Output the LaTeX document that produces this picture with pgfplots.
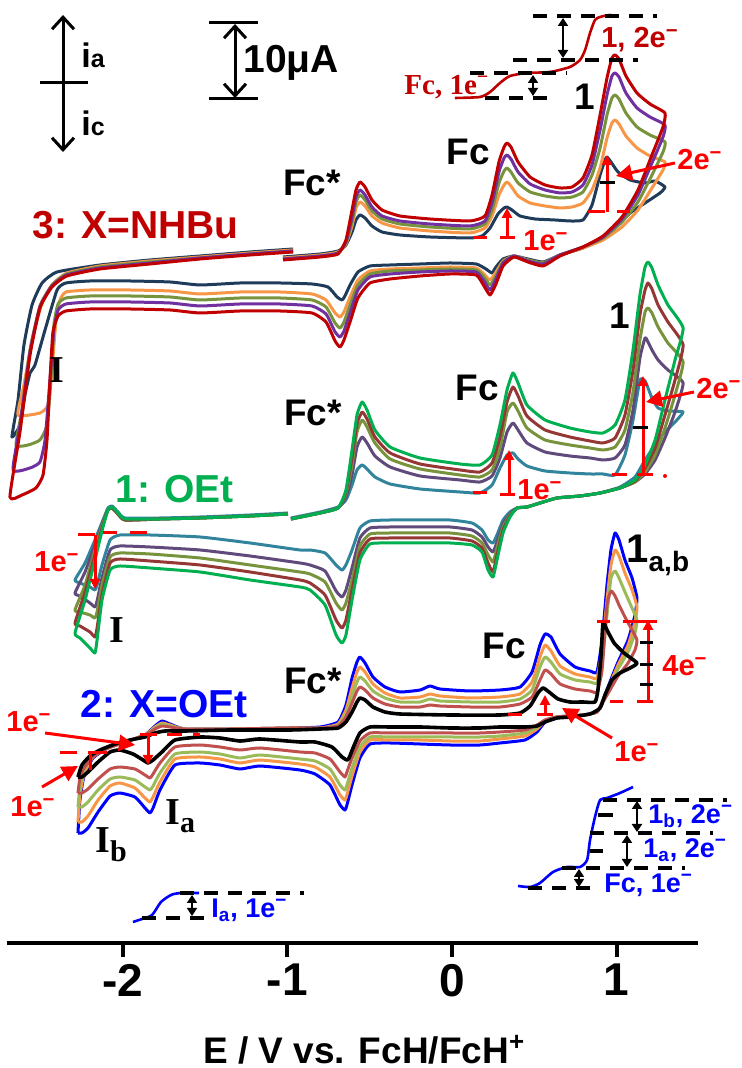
\documentclass[border=0pt]{standalone}
\usepackage{fontspec}
\setmainfont{Liberation Sans}
\newfontfamily\tnr{Liberation Serif}
\usepackage{pgfplots}
\pgfplotsset{compat=1.18}
\usetikzlibrary{arrows.meta}
\definecolor{gnavy}{HTML}{1F3B5A}
\definecolor{gorange}{HTML}{F79646}
\definecolor{golive}{HTML}{77933C}
\definecolor{gpurp}{HTML}{7030A0}
\definecolor{gred}{HTML}{C00000}
\definecolor{ggreen}{HTML}{00B050}
\definecolor{gbrown}{HTML}{953735}
\definecolor{gpurpB}{HTML}{604A7B}
\definecolor{gteal}{HTML}{31849B}
\definecolor{gblue}{HTML}{0000FF}
\definecolor{glgreen}{HTML}{9BBB59}
\definecolor{grosy}{HTML}{C0504D}
\definecolor{ared}{HTML}{FF0000}
\newcommand\bigf{\fontsize{18.5}{20}\selectfont\bfseries}
\newcommand\grpf{\fontsize{19.5}{21}\selectfont\bfseries}
\newcommand\smf{\fontsize{14.5}{16}\selectfont\bfseries}
\newcommand\insf{\fontsize{13.5}{14}\selectfont\bfseries}
\newcommand\emin{\textsuperscript{\char"2212}}
\tikzset{cv/.style={line width=1.5pt, smooth, tension=0.3, line join=round},
  tri/.style={-{Triangle[length=5pt,width=5pt]}},
  trib/.style={-{Triangle[length=8pt,width=8pt]}},
  barb/.style={{Straight Barb[length=6pt,width=11pt]}-{Straight Barb[length=6pt,width=11pt]}},
  dbl/.style={{Triangle[length=4pt,width=5pt]}-{Triangle[length=4pt,width=5pt]}}}
\begin{document}
\begin{tikzpicture}
\begin{axis}[
  name=ax,
  scale only axis, width=345.5pt, height=471.5pt,
  xmin=-2.7019, xmax=1.4936, ymin=-943, ymax=0,
  enlargelimits=false, clip=false,
  axis x line*=bottom, axis y line=none,
  x axis line style={line width=2pt},
  xtick={-2,-1,0,1}, xticklabels={-2,-1,0,1},
  xtick align=outside, major tick length=7pt,
  tick style={line width=2pt, black},
  xticklabel style={font=\fontsize{23}{23}\selectfont\bfseries},
  xlabel={E / V vs. FcH/FcH\textsuperscript{+}},
  xlabel style={font=\fontsize{18.5}{20}\selectfont\bfseries, at={(axis description cs:0.517,0)}, anchor=base, yshift=-60pt},
  no markers,
]
% ===== Group 3: X = NHBu =====
\addplot[gnavy, cv] coordinates {(-1.026,-257)(-0.801,-254)(-0.692,-251)(-0.644,-245)(-0.607,-232)(-0.583,-220)(-0.559,-215)(-0.528,-218)(-0.486,-226)(-0.425,-232)(-0.316,-235)(-0.134,-237)(0.109,-238)(0.182,-236)(0.231,-228)(0.279,-214)(0.316,-208)(0.334,-207)(0.364,-210)(0.413,-216)(0.504,-219)(0.625,-220)(0.716,-221)(0.795,-220)(0.850,-205)(0.899,-175)(0.929,-160)(0.941,-157)(0.965,-162)(1.008,-172)(1.081,-180)(1.172,-183)(1.233,-181)(1.293,-187)(1.263,-193)(1.172,-203)(1.081,-213)(0.990,-228)(0.899,-240)(0.795,-248)(0.656,-255)(0.553,-262)(0.461,-259)(0.376,-256)(0.310,-259)(0.267,-267)(0.243,-273)(0.206,-269)(0.146,-264)(-0.012,-263)(-0.194,-264)(-0.376,-265)(-0.498,-266)(-0.571,-272)(-0.619,-285)(-0.650,-296)(-0.668,-300)(-0.698,-297)(-0.753,-287)(-0.850,-284)(-1.044,-283)(-1.287,-283)(-1.530,-285)(-1.712,-282)(-1.955,-281)(-2.198,-281)(-2.344,-283)(-2.398,-290)(-2.471,-330)(-2.532,-365)(-2.562,-373)(-2.593,-395)(-2.623,-425)(-2.672,-437)(-2.635,-400)(-2.599,-345)(-2.550,-305)(-2.489,-283)(-2.398,-272)(-2.137,-265)(-1.834,-260)(-1.530,-256)(-1.226,-252)(-0.965,-249)};
\addplot[gorange, cv] coordinates {(-1.026,-258)(-0.801,-255)(-0.692,-252)(-0.644,-244)(-0.607,-226)(-0.583,-208)(-0.559,-202)(-0.528,-206)(-0.486,-216)(-0.425,-223)(-0.316,-228)(-0.134,-231)(0.109,-233)(0.200,-228)(0.243,-216)(0.285,-195)(0.316,-185)(0.334,-182)(0.358,-186)(0.401,-196)(0.474,-203)(0.565,-206)(0.656,-208)(0.729,-207)(0.795,-203)(0.850,-190)(0.899,-168)(0.941,-138)(0.971,-123)(0.990,-120)(1.014,-124)(1.056,-136)(1.123,-148)(1.202,-156)(1.293,-162)(1.281,-170)(1.214,-188)(1.129,-210)(1.032,-227)(0.917,-240)(0.795,-248)(0.656,-255)(0.553,-263)(0.461,-260)(0.376,-256)(0.310,-261)(0.267,-272)(0.231,-280)(0.194,-274)(0.146,-268)(-0.012,-267)(-0.194,-268)(-0.376,-269)(-0.498,-271)(-0.571,-280)(-0.619,-297)(-0.656,-312)(-0.680,-317)(-0.710,-313)(-0.765,-300)(-0.850,-294)(-1.044,-292)(-1.287,-292)(-1.530,-294)(-1.712,-291)(-1.955,-290)(-2.198,-290)(-2.344,-292)(-2.380,-300)(-2.404,-320)(-2.429,-370)(-2.453,-405)(-2.502,-413)(-2.635,-415)(-2.599,-385)(-2.550,-340)(-2.489,-303)(-2.423,-284)(-2.338,-273)(-2.137,-266)(-1.834,-261)(-1.530,-257)(-1.226,-253)(-0.965,-250)};
\addplot[golive, cv] coordinates {(-1.026,-259)(-0.801,-256)(-0.692,-253)(-0.644,-243)(-0.607,-222)(-0.583,-202)(-0.559,-195)(-0.528,-200)(-0.486,-211)(-0.425,-219)(-0.316,-224)(-0.134,-227)(0.109,-229)(0.200,-224)(0.243,-210)(0.285,-183)(0.316,-171)(0.334,-168)(0.358,-172)(0.401,-183)(0.474,-192)(0.565,-196)(0.656,-198)(0.729,-197)(0.795,-192)(0.850,-175)(0.899,-148)(0.941,-115)(0.971,-98)(0.990,-95)(1.014,-99)(1.056,-113)(1.123,-127)(1.202,-135)(1.293,-142)(1.281,-152)(1.214,-175)(1.129,-202)(1.032,-222)(0.917,-238)(0.795,-247)(0.656,-255)(0.553,-263)(0.461,-260)(0.376,-256)(0.310,-262)(0.267,-276)(0.231,-285)(0.194,-277)(0.146,-270)(-0.012,-269)(-0.194,-270)(-0.376,-271)(-0.498,-274)(-0.571,-285)(-0.619,-305)(-0.656,-322)(-0.680,-328)(-0.710,-323)(-0.765,-307)(-0.850,-300)(-1.044,-298)(-1.287,-298)(-1.530,-300)(-1.712,-297)(-1.955,-296)(-2.198,-296)(-2.344,-298)(-2.392,-304)(-2.417,-325)(-2.435,-380)(-2.459,-425)(-2.502,-440)(-2.574,-445)(-2.647,-445)(-2.611,-410)(-2.562,-350)(-2.502,-306)(-2.429,-285)(-2.338,-274)(-2.137,-267)(-1.834,-262)(-1.530,-258)(-1.226,-254)(-0.965,-251)};
\addplot[gpurp, cv] coordinates {(-1.026,-259)(-0.801,-256)(-0.692,-253)(-0.644,-242)(-0.607,-217)(-0.583,-197)(-0.559,-190)(-0.528,-195)(-0.486,-207)(-0.425,-216)(-0.316,-221)(-0.134,-224)(0.109,-226)(0.200,-221)(0.243,-203)(0.285,-172)(0.316,-158)(0.334,-155)(0.358,-159)(0.401,-172)(0.474,-184)(0.565,-190)(0.656,-193)(0.729,-192)(0.795,-185)(0.850,-165)(0.899,-130)(0.941,-95)(0.971,-76)(0.990,-73)(1.014,-77)(1.056,-93)(1.123,-108)(1.202,-117)(1.293,-125)(1.281,-137)(1.214,-163)(1.129,-195)(1.032,-219)(0.917,-237)(0.795,-247)(0.656,-255)(0.553,-264)(0.461,-261)(0.376,-256)(0.310,-263)(0.267,-279)(0.231,-290)(0.194,-281)(0.146,-272)(-0.012,-271)(-0.194,-272)(-0.376,-274)(-0.498,-277)(-0.571,-290)(-0.619,-313)(-0.656,-331)(-0.680,-337)(-0.710,-332)(-0.765,-314)(-0.850,-306)(-1.044,-304)(-1.287,-304)(-1.530,-306)(-1.712,-303)(-1.955,-302)(-2.198,-302)(-2.344,-304)(-2.392,-310)(-2.417,-330)(-2.441,-380)(-2.471,-440)(-2.502,-462)(-2.562,-468)(-2.665,-470)(-2.623,-425)(-2.562,-352)(-2.502,-307)(-2.429,-286)(-2.338,-275)(-2.137,-268)(-1.834,-263)(-1.530,-258)(-1.226,-254)(-0.965,-251)};
\addplot[gred, cv] coordinates {(-1.026,-260)(-0.801,-257)(-0.692,-254)(-0.644,-240)(-0.607,-210)(-0.583,-190)(-0.559,-182)(-0.528,-187)(-0.486,-200)(-0.425,-210)(-0.316,-216)(-0.134,-219)(0.109,-221)(0.200,-216)(0.243,-195)(0.285,-162)(0.316,-147)(0.334,-143)(0.358,-147)(0.401,-162)(0.474,-177)(0.565,-185)(0.656,-188)(0.729,-187)(0.795,-178)(0.850,-155)(0.899,-115)(0.941,-78)(0.971,-58)(0.990,-55)(1.014,-59)(1.056,-76)(1.123,-93)(1.202,-104)(1.293,-113)(1.281,-127)(1.214,-155)(1.129,-190)(1.032,-217)(0.917,-236)(0.795,-247)(0.656,-256)(0.553,-266)(0.461,-262)(0.376,-257)(0.310,-266)(0.267,-284)(0.231,-295)(0.194,-286)(0.146,-275)(-0.012,-274)(-0.194,-276)(-0.376,-279)(-0.498,-283)(-0.571,-298)(-0.619,-322)(-0.656,-340)(-0.680,-347)(-0.710,-341)(-0.765,-322)(-0.850,-313)(-1.044,-311)(-1.287,-311)(-1.530,-313)(-1.712,-310)(-1.955,-309)(-2.198,-309)(-2.344,-311)(-2.392,-316)(-2.423,-332)(-2.441,-380)(-2.459,-440)(-2.483,-475)(-2.526,-488)(-2.611,-495)(-2.684,-497)(-2.623,-432)(-2.562,-355)(-2.502,-308)(-2.429,-287)(-2.338,-276)(-2.137,-269)(-1.834,-264)(-1.530,-259)(-1.226,-255)(-0.965,-252)};
% ===== Group 1: OEt =====
\addplot[gteal, cv] coordinates {(-0.978,-518)(-0.801,-512)(-0.692,-507)(-0.644,-500)(-0.607,-485)(-0.577,-470)(-0.546,-465)(-0.516,-469)(-0.468,-477)(-0.376,-484)(-0.194,-489)(0.049,-492)(0.170,-493)(0.243,-485)(0.291,-468)(0.334,-455)(0.370,-453)(0.401,-459)(0.455,-466)(0.565,-471)(0.716,-473)(0.838,-474)(0.917,-474)(0.990,-475)(1.050,-455)(1.099,-420)(1.141,-380)(1.172,-381)(1.190,-388)(1.214,-398)(1.251,-408)(1.311,-411)(1.403,-412)(1.354,-422)(1.293,-432)(1.233,-445)(1.172,-460)(1.111,-477)(1.020,-487)(0.899,-493)(0.777,-496)(0.638,-498)(0.534,-503)(0.455,-507)(0.395,-508)(0.352,-512)(0.310,-520)(0.273,-535)(0.249,-543)(0.219,-540)(0.182,-530)(0.121,-523)(-0.012,-520)(-0.194,-520)(-0.376,-520)(-0.498,-521)(-0.559,-528)(-0.607,-550)(-0.644,-565)(-0.668,-570)(-0.704,-565)(-0.771,-553)(-0.862,-550)(-0.923,-550)(-1.226,-543)(-1.530,-537)(-1.834,-535)(-2.016,-535)(-2.076,-540)(-2.125,-565)(-2.155,-585)(-2.168,-590)(-2.198,-587)(-2.259,-583)(-2.289,-580)(-2.228,-563)(-2.168,-540)(-2.119,-520)(-2.089,-508)(-2.064,-506)(-2.028,-512)(-1.985,-518)(-1.773,-518)(-1.530,-517)(-1.226,-515)(-0.996,-513)};
\addplot[gpurpB, cv] coordinates {(-0.978,-519)(-0.801,-513)(-0.692,-508)(-0.644,-497)(-0.607,-475)(-0.577,-447)(-0.546,-437)(-0.516,-443)(-0.468,-456)(-0.376,-467)(-0.194,-476)(0.049,-480)(0.170,-482)(0.243,-476)(0.291,-458)(0.334,-432)(0.370,-423)(0.401,-430)(0.455,-443)(0.565,-452)(0.716,-456)(0.838,-458)(0.917,-460)(0.990,-458)(1.050,-445)(1.099,-410)(1.141,-358)(1.172,-338)(1.190,-342)(1.214,-350)(1.251,-360)(1.311,-370)(1.403,-383)(1.354,-412)(1.293,-438)(1.233,-460)(1.172,-474)(1.111,-482)(1.020,-488)(0.899,-493)(0.777,-496)(0.638,-498)(0.534,-503)(0.455,-507)(0.395,-508)(0.352,-514)(0.310,-524)(0.273,-542)(0.249,-552)(0.219,-547)(0.182,-537)(0.121,-530)(-0.012,-527)(-0.194,-527)(-0.376,-527)(-0.498,-528)(-0.559,-538)(-0.607,-568)(-0.644,-590)(-0.668,-597)(-0.704,-591)(-0.771,-571)(-0.862,-565)(-0.923,-563)(-1.226,-556)(-1.530,-550)(-1.834,-547)(-2.016,-546)(-2.076,-550)(-2.125,-578)(-2.155,-601)(-2.168,-607)(-2.198,-603)(-2.259,-596)(-2.289,-593)(-2.228,-572)(-2.168,-545)(-2.119,-522)(-2.089,-510)(-2.064,-508)(-2.028,-514)(-1.985,-520)(-1.773,-519)(-1.530,-518)(-1.226,-516)(-0.996,-514)};
\addplot[golive, cv] coordinates {(-0.978,-519)(-0.801,-513)(-0.692,-508)(-0.644,-494)(-0.607,-465)(-0.577,-432)(-0.546,-420)(-0.516,-427)(-0.468,-443)(-0.376,-459)(-0.194,-469)(0.049,-475)(0.170,-477)(0.243,-470)(0.291,-448)(0.334,-412)(0.370,-403)(0.401,-411)(0.455,-428)(0.565,-440)(0.716,-445)(0.838,-448)(0.917,-450)(0.990,-447)(1.050,-430)(1.099,-392)(1.141,-340)(1.172,-312)(1.190,-308)(1.214,-313)(1.251,-327)(1.311,-343)(1.403,-362)(1.354,-395)(1.293,-428)(1.233,-455)(1.172,-472)(1.111,-482)(1.020,-488)(0.899,-493)(0.777,-496)(0.638,-498)(0.534,-503)(0.455,-507)(0.395,-508)(0.352,-515)(0.310,-527)(0.273,-548)(0.249,-562)(0.219,-555)(0.182,-543)(0.121,-536)(-0.012,-533)(-0.194,-533)(-0.376,-533)(-0.498,-534)(-0.559,-546)(-0.607,-580)(-0.644,-603)(-0.668,-610)(-0.704,-603)(-0.771,-582)(-0.862,-574)(-0.923,-572)(-1.226,-565)(-1.530,-558)(-1.834,-554)(-2.016,-553)(-2.076,-557)(-2.125,-585)(-2.155,-612)(-2.168,-618)(-2.198,-615)(-2.259,-612)(-2.289,-610)(-2.228,-585)(-2.168,-550)(-2.119,-523)(-2.089,-510)(-2.064,-508)(-2.028,-514)(-1.985,-520)(-1.773,-519)(-1.530,-518)(-1.226,-516)(-0.996,-514)};
\addplot[gbrown, cv] coordinates {(-0.978,-519)(-0.801,-513)(-0.692,-508)(-0.644,-492)(-0.607,-458)(-0.577,-424)(-0.546,-412)(-0.516,-419)(-0.468,-437)(-0.376,-453)(-0.194,-464)(0.049,-470)(0.170,-472)(0.243,-463)(0.291,-437)(0.334,-402)(0.370,-387)(0.401,-396)(0.455,-416)(0.565,-430)(0.716,-437)(0.838,-441)(0.917,-443)(0.990,-438)(1.050,-415)(1.099,-370)(1.141,-315)(1.172,-290)(1.190,-283)(1.214,-289)(1.251,-305)(1.311,-322)(1.403,-345)(1.354,-380)(1.293,-415)(1.233,-448)(1.172,-468)(1.111,-481)(1.020,-488)(0.899,-493)(0.777,-496)(0.638,-498)(0.534,-503)(0.455,-507)(0.395,-508)(0.352,-516)(0.310,-530)(0.273,-555)(0.249,-572)(0.219,-563)(0.182,-548)(0.121,-541)(-0.012,-538)(-0.194,-538)(-0.376,-538)(-0.498,-539)(-0.559,-553)(-0.607,-590)(-0.644,-620)(-0.668,-628)(-0.704,-620)(-0.771,-595)(-0.862,-583)(-0.923,-580)(-1.226,-572)(-1.530,-565)(-1.834,-561)(-2.016,-559)(-2.076,-563)(-2.125,-595)(-2.155,-628)(-2.168,-637)(-2.198,-632)(-2.259,-626)(-2.289,-623)(-2.228,-592)(-2.168,-555)(-2.119,-525)(-2.089,-510)(-2.064,-508)(-2.028,-514)(-1.985,-520)(-1.773,-519)(-1.530,-518)(-1.226,-516)(-0.996,-514)};
\addplot[ggreen, cv] coordinates {(-0.978,-519)(-0.801,-513)(-0.692,-508)(-0.644,-490)(-0.607,-450)(-0.577,-415)(-0.546,-402)(-0.516,-410)(-0.468,-430)(-0.376,-447)(-0.194,-458)(0.049,-464)(0.170,-465)(0.243,-455)(0.291,-425)(0.334,-390)(0.370,-373)(0.401,-383)(0.455,-405)(0.565,-420)(0.716,-428)(0.838,-432)(0.917,-433)(0.990,-425)(1.050,-400)(1.099,-350)(1.141,-295)(1.172,-267)(1.190,-262)(1.214,-268)(1.251,-285)(1.311,-305)(1.403,-328)(1.354,-360)(1.293,-400)(1.233,-440)(1.172,-465)(1.111,-480)(1.020,-488)(0.899,-493)(0.777,-496)(0.638,-498)(0.534,-503)(0.455,-507)(0.395,-508)(0.352,-517)(0.310,-533)(0.273,-560)(0.249,-577)(0.219,-570)(0.182,-552)(0.121,-545)(-0.012,-543)(-0.194,-543)(-0.376,-543)(-0.498,-544)(-0.559,-560)(-0.607,-600)(-0.644,-635)(-0.668,-643)(-0.704,-635)(-0.771,-605)(-0.862,-590)(-0.923,-587)(-1.226,-580)(-1.530,-572)(-1.834,-568)(-2.016,-566)(-2.076,-570)(-2.125,-600)(-2.155,-640)(-2.168,-653)(-2.198,-648)(-2.259,-638)(-2.289,-633)(-2.228,-600)(-2.168,-560)(-2.119,-527)(-2.089,-510)(-2.064,-507)(-2.028,-513)(-1.985,-519)(-1.773,-519)(-1.530,-518)(-1.226,-516)(-0.996,-514)};
% ===== Group 2: X = OEt =====
\addplot[gblue, cv] coordinates {(-2.271,-833)(-2.259,-800)(-2.234,-776)(-2.180,-758)(-2.089,-748)(-1.967,-741)(-1.864,-735)(-1.803,-726)(-1.761,-721)(-1.712,-724)(-1.621,-729)(-1.348,-729)(-0.984,-728)(-0.801,-727)(-0.692,-722)(-0.644,-705)(-0.607,-678)(-0.577,-662)(-0.559,-657)(-0.528,-663)(-0.480,-677)(-0.407,-687)(-0.316,-692)(-0.194,-690)(-0.134,-686)(-0.073,-689)(0.109,-691)(0.291,-690)(0.413,-687)(0.486,-672)(0.534,-645)(0.565,-634)(0.601,-637)(0.656,-654)(0.747,-667)(0.838,-671)(0.880,-672)(0.911,-640)(0.941,-585)(0.965,-550)(0.990,-533)(1.014,-540)(1.050,-560)(1.093,-578)(1.123,-598)(1.111,-615)(1.069,-640)(1.008,-662)(0.959,-682)(0.917,-700)(0.880,-712)(0.795,-715)(0.638,-717)(0.565,-722)(0.516,-732)(0.443,-740)(0.291,-743)(0.170,-745)(-0.012,-745)(-0.194,-744)(-0.376,-743)(-0.498,-744)(-0.559,-758)(-0.607,-785)(-0.638,-805)(-0.650,-810)(-0.680,-805)(-0.741,-785)(-0.832,-774)(-0.923,-770)(-1.166,-766)(-1.287,-769)(-1.409,-765)(-1.530,-763)(-1.682,-765)(-1.773,-790)(-1.815,-808)(-1.834,-813)(-1.864,-808)(-1.925,-797)(-2.016,-793)(-2.076,-796)(-2.149,-812)(-2.210,-828)(-2.247,-833)(-2.271,-833)};
\addplot[gorange, cv] coordinates {(-2.271,-822)(-2.259,-795)(-2.234,-774)(-2.180,-757)(-2.089,-748)(-1.967,-741)(-1.864,-735)(-1.803,-727)(-1.761,-723)(-1.712,-725)(-1.621,-729)(-1.348,-729)(-0.984,-728)(-0.801,-728)(-0.692,-724)(-0.644,-710)(-0.607,-688)(-0.577,-672)(-0.559,-667)(-0.528,-672)(-0.480,-684)(-0.407,-693)(-0.316,-698)(-0.194,-697)(-0.134,-694)(-0.073,-696)(0.109,-698)(0.291,-697)(0.413,-694)(0.486,-682)(0.534,-657)(0.565,-645)(0.601,-651)(0.656,-666)(0.747,-674)(0.838,-677)(0.880,-678)(0.911,-650)(0.941,-600)(0.965,-565)(0.990,-550)(1.014,-556)(1.050,-573)(1.093,-590)(1.123,-607)(1.111,-622)(1.069,-645)(1.008,-665)(0.959,-684)(0.917,-700)(0.880,-712)(0.795,-715)(0.638,-717)(0.565,-721)(0.516,-729)(0.443,-736)(0.291,-739)(0.170,-741)(-0.012,-741)(-0.194,-740)(-0.376,-740)(-0.498,-740)(-0.559,-752)(-0.607,-776)(-0.638,-795)(-0.650,-800)(-0.680,-795)(-0.741,-777)(-0.832,-767)(-0.923,-764)(-1.166,-760)(-1.287,-763)(-1.409,-759)(-1.530,-757)(-1.682,-759)(-1.773,-782)(-1.815,-797)(-1.834,-802)(-1.864,-798)(-1.925,-788)(-2.016,-783)(-2.076,-786)(-2.149,-800)(-2.210,-816)(-2.247,-822)(-2.271,-822)};
\addplot[glgreen, cv] coordinates {(-2.271,-807)(-2.259,-787)(-2.234,-770)(-2.180,-756)(-2.089,-748)(-1.967,-741)(-1.864,-735)(-1.803,-728)(-1.761,-724)(-1.712,-726)(-1.621,-729)(-1.348,-729)(-0.984,-728)(-0.801,-728)(-0.692,-725)(-0.644,-714)(-0.607,-696)(-0.577,-682)(-0.559,-677)(-0.528,-681)(-0.480,-691)(-0.407,-698)(-0.316,-702)(-0.194,-702)(-0.134,-699)(-0.073,-701)(0.109,-702)(0.291,-702)(0.413,-699)(0.486,-690)(0.534,-667)(0.565,-657)(0.601,-662)(0.656,-674)(0.747,-680)(0.838,-682)(0.880,-683)(0.911,-662)(0.941,-615)(0.965,-578)(0.990,-571)(1.014,-578)(1.050,-592)(1.093,-608)(1.123,-620)(1.111,-633)(1.069,-652)(1.008,-669)(0.959,-686)(0.917,-701)(0.880,-712)(0.795,-715)(0.638,-717)(0.565,-720)(0.516,-727)(0.443,-733)(0.291,-736)(0.170,-737)(-0.012,-737)(-0.194,-737)(-0.376,-737)(-0.498,-737)(-0.559,-747)(-0.607,-768)(-0.638,-785)(-0.650,-790)(-0.680,-785)(-0.741,-769)(-0.832,-761)(-0.923,-759)(-1.166,-755)(-1.287,-758)(-1.409,-754)(-1.530,-752)(-1.682,-754)(-1.773,-773)(-1.815,-786)(-1.834,-790)(-1.864,-787)(-1.925,-780)(-2.016,-777)(-2.076,-779)(-2.149,-790)(-2.210,-802)(-2.247,-807)(-2.271,-807)};
\addplot[grosy, cv] coordinates {(-2.271,-793)(-2.259,-778)(-2.234,-768)(-2.180,-757)(-2.089,-748)(-1.967,-741)(-1.864,-735)(-1.803,-729)(-1.761,-726)(-1.712,-727)(-1.621,-729)(-1.348,-729)(-0.984,-728)(-0.801,-728)(-0.692,-726)(-0.644,-717)(-0.607,-703)(-0.577,-691)(-0.559,-687)(-0.528,-690)(-0.480,-698)(-0.407,-704)(-0.316,-707)(-0.194,-707)(-0.134,-705)(-0.073,-706)(0.109,-707)(0.291,-707)(0.413,-704)(0.486,-697)(0.534,-680)(0.565,-670)(0.601,-674)(0.656,-684)(0.747,-689)(0.838,-691)(0.880,-692)(0.911,-670)(0.941,-605)(0.965,-591)(0.990,-596)(1.014,-605)(1.050,-617)(1.093,-630)(1.123,-640)(1.111,-650)(1.069,-663)(1.008,-676)(0.959,-690)(0.917,-702)(0.880,-712)(0.795,-715)(0.638,-717)(0.565,-720)(0.516,-725)(0.443,-730)(0.291,-732)(0.170,-733)(-0.012,-733)(-0.194,-733)(-0.376,-733)(-0.498,-733)(-0.559,-741)(-0.607,-758)(-0.638,-772)(-0.650,-777)(-0.680,-772)(-0.741,-759)(-0.832,-753)(-0.923,-752)(-1.166,-748)(-1.287,-750)(-1.409,-747)(-1.530,-745)(-1.682,-747)(-1.773,-763)(-1.815,-774)(-1.834,-778)(-1.864,-775)(-1.925,-769)(-2.016,-767)(-2.076,-769)(-2.149,-779)(-2.210,-789)(-2.247,-793)(-2.271,-793)};
\addplot[black, cv, line width=1.8pt] coordinates {(-2.271,-777)(-2.247,-765)(-2.198,-756)(-2.137,-750)(-2.046,-744)(-1.955,-740)(-1.864,-737)(-1.803,-733)(-1.743,-731)(-1.621,-731)(-1.348,-730)(-0.984,-730)(-0.801,-729)(-0.692,-728)(-0.644,-722)(-0.607,-712)(-0.577,-702)(-0.559,-698)(-0.528,-700)(-0.480,-707)(-0.407,-712)(-0.316,-714)(-0.012,-715)(0.291,-715)(0.413,-713)(0.474,-706)(0.522,-693)(0.553,-688)(0.589,-692)(0.644,-699)(0.716,-702)(0.795,-702)(0.868,-702)(0.886,-690)(0.905,-655)(0.917,-623)(0.941,-630)(0.984,-643)(1.044,-653)(1.123,-663)(1.081,-668)(1.020,-673)(0.971,-680)(0.929,-695)(0.899,-708)(0.838,-714)(0.716,-717)(0.638,-718)(0.565,-722)(0.516,-726)(0.443,-727)(0.291,-727)(0.170,-728)(-0.012,-728)(-0.194,-727)(-0.376,-727)(-0.498,-727)(-0.559,-733)(-0.601,-748)(-0.625,-758)(-0.638,-760)(-0.668,-757)(-0.729,-747)(-0.832,-742)(-0.923,-742)(-1.166,-739)(-1.287,-741)(-1.409,-738)(-1.530,-737)(-1.682,-740)(-1.761,-752)(-1.815,-760)(-1.846,-763)(-1.876,-760)(-1.937,-754)(-2.016,-750)(-2.076,-752)(-2.149,-762)(-2.210,-772)(-2.247,-777)(-2.271,-777)};
% ===== insets (steady-state waves) =====
\addplot[gred, line width=1.3pt, smooth, tension=0.4] coordinates {(0.018,-98)(0.170,-97)(0.231,-92)(0.291,-83)(0.352,-76)(0.455,-73)(0.595,-72)(0.716,-67)(0.777,-60)(0.808,-50)(0.838,-33)(0.868,-20)(0.899,-17)(0.959,-15)(1.002,-17)};
\addplot[gblue, line width=1.3pt, smooth, tension=0.4] coordinates {(-1.937,-922)(-1.882,-919)(-1.821,-915)(-1.767,-902)(-1.706,-895)(-1.651,-893)(-1.536,-893)};
\addplot[gblue, line width=1.3pt, smooth, tension=0.4] coordinates {(0.401,-886)(0.474,-887)(0.534,-883)(0.613,-872)(0.698,-867)(0.777,-867)(0.820,-860)(0.838,-840)(0.868,-817)(0.899,-800)(0.941,-798)(1.020,-793)(1.099,-787)};
\end{axis}
\begin{scope}[shift={(ax.north west)},xshift=-3.5pt,x=0.5pt,y=-0.5pt]
% legend arrows
\draw[line width=1.5pt,barb] (63,15) -- (63,152);
\draw[line width=1.5pt] (40,83) -- (88,83);
\node[anchor=base west,inner sep=0,font=\fontsize{17}{17}\selectfont\bfseries] at (81,68) {i{\fontsize{12.5}{12.5}\selectfont a}};
\node[anchor=base west,inner sep=0,font=\fontsize{17}{17}\selectfont\bfseries] at (81,136) {i{\fontsize{12.5}{12.5}\selectfont c}};
\draw[line width=1.5pt] (209,23) -- (258,23) (209,99) -- (258,99);
\draw[line width=1.5pt,barb] (235,24) -- (235,98);
\node[anchor=west,inner sep=0,font=\grpf] at (243,63) {10μA};
% group labels
\node[anchor=west,inner sep=0,font=\grpf,text=gred] at (32,225) {3: X=NHBu};
\node[anchor=west,inner sep=0,font=\grpf,text=ggreen] at (115,489) {1: OEt};
\node[anchor=west,inner sep=0,font=\grpf,text=gblue] at (80,704) {2: X=OEt};
% peak labels
\node[font=\bigf,inner sep=0] at (312,183) {Fc*};
\node[font=\bigf,inner sep=0] at (468,152) {Fc};
\node[font=\bigf,inner sep=0] at (585,97) {1};
\node[font=\bigf,inner sep=0] at (313,413) {Fc*};
\node[font=\bigf,inner sep=0] at (477,388) {Fc};
\node[font=\bigf,inner sep=0] at (620,316) {1};
\node[font=\bigf,inner sep=0] at (313,681) {Fc*};
\node[font=\bigf,inner sep=0] at (504,646) {Fc};
\node[anchor=base west,inner sep=0,font=\fontsize{20}{20}\selectfont\bfseries] at (626,563) {1\raisebox{-4.5pt}{\fontsize{14}{14}\selectfont a,b}};
\node[font=\tnr\fontsize{19}{20}\selectfont\bfseries,inner sep=0] at (57,370) {I};
\node[font=\tnr\fontsize{19}{20}\selectfont\bfseries,inner sep=0] at (117,630) {I};
\node[anchor=base west,inner sep=0,font=\tnr\fontsize{19}{20}\selectfont\bfseries] at (165,825) {I\raisebox{-4pt}{\fontsize{15}{15}\selectfont a}};
\node[anchor=base west,inner sep=0,font=\tnr\fontsize{19}{20}\selectfont\bfseries] at (95,853) {I\raisebox{-4.5pt}{\fontsize{15}{15}\selectfont b}};
% red electron labels
\node[font=\smf,text=ared,inner sep=0] at (700,160) {2e\emin};
\node[font=\smf,text=ared,inner sep=0] at (546,241) {1e\emin};
\node[font=\smf,text=ared,inner sep=0] at (719,389) {2e\emin};
\node[font=\smf,text=ared,inner sep=0] at (540,490) {1e\emin};
\node[font=\smf,text=ared,inner sep=0] at (57,562) {1e\emin};
\node[font=\smf,text=ared,inner sep=0] at (685,666) {4e\emin};
\node[font=\smf,text=ared,inner sep=0] at (637,752) {1e\emin};
\node[font=\smf,text=ared,inner sep=0] at (29,722) {1e\emin};
\node[font=\smf,text=ared,inner sep=0] at (33,807) {1e\emin};
% red annotation marks
\begin{scope}[ared,line width=1.5pt]
\draw (473,238)--(487,238) (500,238)--(515,238);
\draw[tri] (507,238)--(507,208);
\draw (588,212)--(605,212) (617,212)--(630,212);
\draw[tri] (607,212)--(607,155);
\draw[trib] (675,163)--(616,176);
\draw (473,493)--(487,493) (500,495)--(515,495);
\draw[tri] (509,495)--(509,450);
\draw (612,475)--(627,475) (637,475)--(653,475);
\fill (665,476) circle (1pt);
\draw[tri] (643,475)--(643,376);
\draw[trib] (694,392)--(646,402);
\draw (78,535)--(95,535) (103,533)--(117,533) (130,533)--(147,533);
\draw[tri] (95,535)--(95,589);
\draw (597,622)--(610,622) (623,622)--(657,622);
\draw (610,702)--(623,702) (637,702)--(653,702);
\draw[tri] (648,702)--(648,620);
\draw (508,715)--(522,715) (537,715)--(553,715);
\draw[tri] (545,715)--(545,695);
\draw[trib] (612,738)--(562,708);
\draw (140,735)--(157,735) (167,735)--(182,735) (193,735)--(200,735);
\draw[tri] (148,735)--(148,765);
\draw[trib] (45,733)--(135,745);
\draw (60,753)--(77,753) (88,753)--(107,753) (90,753)--(90,770);
\draw[trib] (42,787)--(78,766);
\end{scope}
\draw[line width=1.5pt] (600,183)--(615,183) (633,428)--(648,428)
  (640,643)--(653,643) (640,665)--(653,665) (640,685)--(653,685);
% inset dashed levels
\begin{scope}[black,line width=1.8pt,dash pattern=on 7pt off 5pt]
\draw (533,16)--(657,16);
\draw (513,60)--(638,60);
\draw (470,73)--(567,73);
\draw (485,98)--(550,98);
\draw (180,893)--(304,893);
\draw (142,918)--(209,918);
\draw (603,800)--(727,800);
\draw (590,833)--(713,833);
\draw (562,868)--(685,868);
\draw (528,888)--(597,888);
\end{scope}
\draw[line width=1.8pt] (598,815)--(613,815) (590,851)--(603,851);
\draw[line width=1.3pt,dbl] (563,18)--(563,58);
\draw[line width=0.8pt,dbl] (533,75)--(533,96);
\draw[line width=0.8pt,dbl] (192,895)--(192,916);
\draw[line width=1.3pt,dbl] (637,801)--(637,832);
\draw[line width=1.3pt,dbl] (627,835)--(627,867);
\draw[line width=0.8pt,dbl] (579,869)--(579,887);
\node[font=\tnr\fontsize{14.5}{15}\selectfont\bfseries,text=gred,inner sep=0] at (447,87) {Fc, 1e\emin};
\node[font=\smf,text=gred,inner sep=0] at (640,40) {1, 2e\emin};
\node[font=\insf,text=gblue,anchor=west,inner sep=0] at (211,910) {I\textsubscript{a}, 1e\emin};
\node[font=\insf,text=gblue,anchor=west,inner sep=0] at (648,816) {1\textsubscript{b}, 2e\emin};
\node[font=\insf,text=gblue,anchor=west,inner sep=0] at (643,850) {1\textsubscript{a}, 2e\emin};
\node[font=\insf,text=gblue,anchor=west,inner sep=0] at (604,885) {Fc, 1e\emin};
\end{scope}
\pgfresetboundingbox
\path[use as bounding box] ([xshift=-3.5pt,yshift=-62.5pt]ax.south west) rectangle ([xshift=21.5pt]ax.north east);
\end{tikzpicture}
\end{document}
